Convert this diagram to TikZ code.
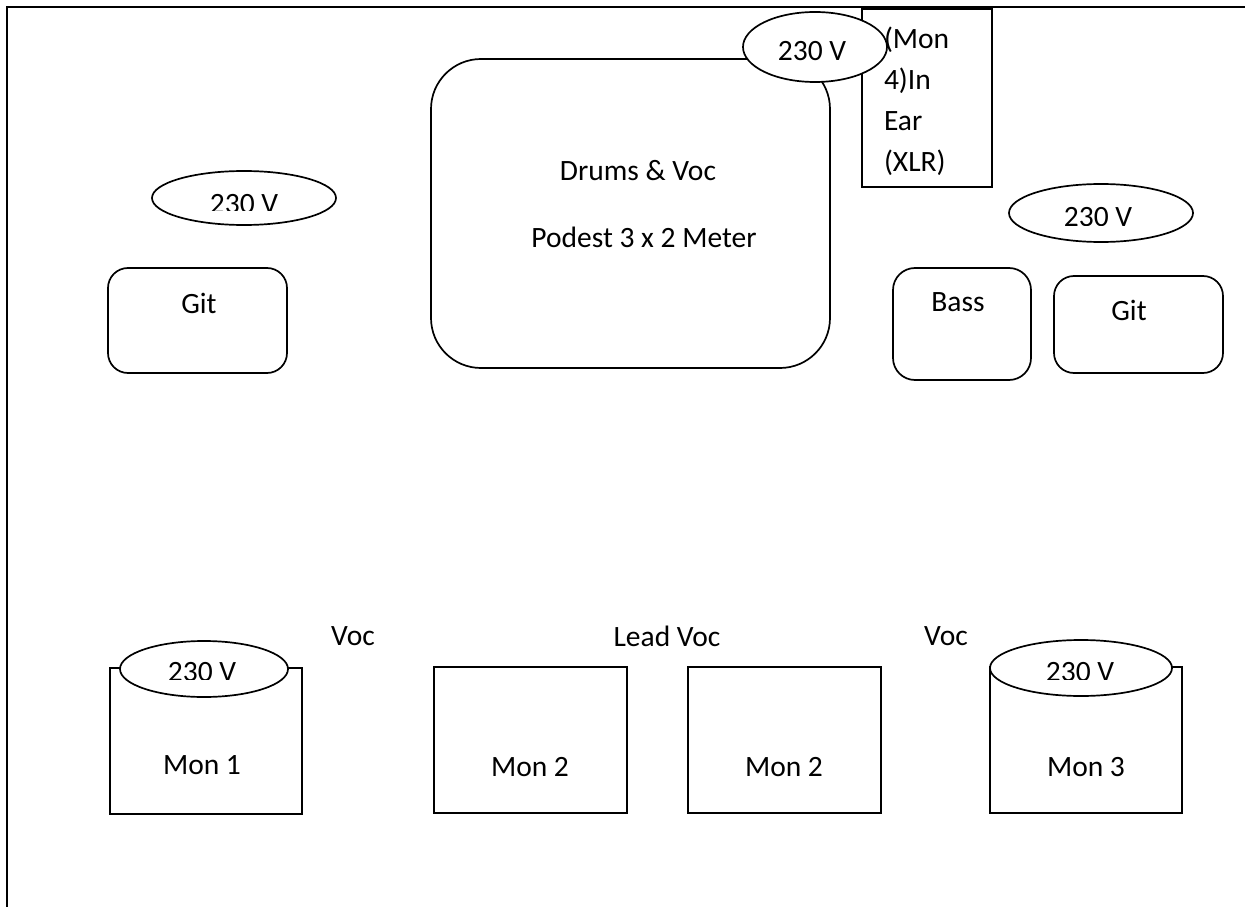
\documentclass[tikz,border=0pt]{standalone}
\usepackage{fontspec}
\setmainfont{Carlito}
\usetikzlibrary{shapes.geometric}
\begin{document}
\begin{tikzpicture}[x=1pt,y=-1pt,
  every node/.style={font=\fontsize{29.5}{41}\selectfont, inner sep=0pt, outer sep=0pt},
  ln/.style={line width=1.7pt},
  ampbox/.style={ln, draw, rectangle, rounded corners=20pt},
  monbox/.style={ln, draw, rectangle, minimum width=193pt, minimum height=146pt},
  pwr/.style={ln, draw, fill=white, ellipse},
  txt/.style={anchor=center},
]
\useasboundingbox (0,0) rectangle (1245,920);

% frame
\coordinate (fTL) at (7,7);
\coordinate (fTR) at (1245,7);
\coordinate (fBL) at (7,907);
\draw[ln] (fTR) -- (fTL) -- (fBL);

% drums riser
\node[ln, draw, rectangle, rounded corners=50pt, minimum width=399pt, minimum height=309pt] (drums) at (630.5,213.5) {};
\node[txt] (drumsT) at (638,171) {Drums \& Voc};
\node[txt] (podT) at (644,237) {Podest 3 x 2 Meter};

% in-ear box
\node[ln, draw, rectangle, minimum width=130pt, minimum height=178pt] (iem) at (927,98) {};
\node[pwr, minimum width=144pt, minimum height=70pt] (pTop) at (815,47) {};
\node[txt] (pTopT) at (812,51) {230 V};
\node[anchor=north west, align=left] (iemT) at (884,27) {(Mon\\4)In\\Ear\\(XLR)};

% left amp
\node[pwr, minimum width=184pt, minimum height=54pt] (pL) at (244,198) {};
\begin{scope}
  \clip (150,180) rectangle (340,211);
  \node[txt] (pLT) at (244,204) {230 V};
\end{scope}
\node[ampbox, minimum width=179pt, minimum height=105pt] (git1) at (197.5,320.5) {};
\node[txt] (git1T) at (199,303) {Git};

% right amps
\node[pwr, minimum width=184pt, minimum height=58pt] (pR) at (1101,213) {};
\begin{scope}
  \clip (1005,190) rectangle (1195,226);
  \node[txt] (pRT) at (1098,217) {230 V};
\end{scope}
\node[ampbox, rounded corners=22pt, minimum width=138pt, minimum height=112pt] (bass) at (962,324) {};
\node[txt] (bassT) at (958,302) {Bass};
\node[ampbox, minimum width=169pt, minimum height=97pt] (git2) at (1138.5,324.5) {};
\node[txt] (git2T) at (1129,310) {Git};

% vocal labels
\node[txt] (voc1) at (353,636) {Voc};
\node[txt] (lvoc) at (667,636) {Lead Voc};
\node[txt] (voc2) at (946,636) {Voc};

% monitors
\node[monbox, minimum width=192pt] (m1) at (206,741) {};
\node[pwr, minimum width=168pt, minimum height=56pt] (pM1) at (204,669) {};
\begin{scope}
  \clip (115,650) rectangle (295,679);
  \node[txt] (pM1T) at (202,672) {230 V};
\end{scope}
\node[txt] (m1T) at (202,765) {Mon 1};

\node[monbox] (m2a) at (530.5,740) {};
\node[txt] (m2aT) at (530,767) {Mon 2};
\node[monbox] (m2b) at (784.5,740) {};
\node[txt] (m2bT) at (784,767) {Mon 2};

\node[monbox, minimum width=192pt] (m3) at (1086,740) {};
\node[pwr, minimum width=182pt, minimum height=56pt] (pM3) at (1081,668) {};
\begin{scope}
  \clip (990,650) rectangle (1170,679);
  \node[txt] (pM3T) at (1080,672) {230 V};
\end{scope}
\node[txt] (m3T) at (1086,767) {Mon 3};
\end{tikzpicture}
\end{document}
